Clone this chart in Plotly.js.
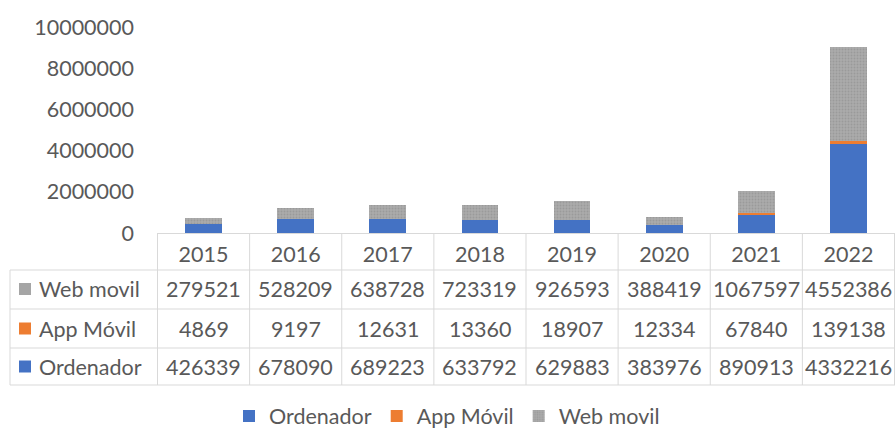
<!DOCTYPE html>
<html><head><meta charset="utf-8">
<script src="https://cdn.plot.ly/plotly-3.0.1.min.js"></script>
<style>html,body{margin:0;padding:0;background:#fff}#c{width:896px;height:429px}</style>
</head><body><div id="c"></div>
<script>
const years = ['2015','2016','2017','2018','2019','2020','2021','2022'];
const ordenador = [426339, 678090, 689223, 633792, 629883, 383976, 890913, 4332216];
const appMovil = [4869, 9197, 12631, 13360, 18907, 12334, 67840, 139138];
const webMovil = [279521, 528209, 638728, 723319, 926593, 388419, 1067597, 4552386];
const seriesNames = ['Ordenador', 'App Móvil', 'Web movil'];
const colors = ['#4472C4', '#ED7D31', '#A5A5A5'];

const FONT = 'Lato, "Open Sans", sans-serif';
const TXT = '#595959';
const LINE = '#D9D9D9';
const W = 896, H = 429;
const mL = 157, mR = 1, mT = 27, mB = 196;
const plotH = H - mT - mB; // 206
const py = p => (H - mB - p) / plotH; // pixel y -> paper y
const px = p => (p - mL) / (W - mL - mR); // pixel x -> paper x

const traces = [
  {type:'bar', name:seriesNames[0], x:years, y:ordenador, marker:{color:colors[0]}},
  {type:'bar', name:seriesNames[1], x:years, y:appMovil, marker:{color:colors[1]}},
  {type:'bar', name:seriesNames[2], x:years, y:webMovil,
   marker:{color:colors[2], pattern:{shape:'.', fgcolor:'#9A9A9A', bgcolor:'#ABABAB', size:3, solidity:0.3}}}
];
traces.forEach(t => { t.hoverinfo = 'none'; });

const shapes = [];
const annotations = [];
const yHeaderTop = 233, rowLines = [270, 309, 348, 385];
for (let k = 0; k <= years.length; k++) {
  shapes.push({type:'line', xref:'x', yref:'paper', x0:k-0.5, x1:k-0.5, y0:py(yHeaderTop), y1:py(385), line:{color:LINE, width:1}});
}
shapes.push({type:'line', xref:'paper', yref:'paper', x0:px(10), x1:px(10), y0:py(270), y1:py(385), line:{color:LINE, width:1}});
rowLines.forEach(r => {
  shapes.push({type:'line', xref:'paper', yref:'paper', x0:px(10), x1:1, y0:py(r), y1:py(r), line:{color:LINE, width:1}});
});

const rows = [
  {name: seriesNames[2], vals: webMovil, color: colors[2], yc: 289},
  {name: seriesNames[1], vals: appMovil, color: colors[1], yc: 328.5},
  {name: seriesNames[0], vals: ordenador, color: colors[0], yc: 366.5}
];
rows.forEach(r => {
  shapes.push({type:'rect', xref:'paper', yref:'paper', x0:px(19), x1:px(31), y0:py(r.yc-6), y1:py(r.yc+6), line:{width:0}, fillcolor:r.color});
  annotations.push({xref:'paper', yref:'paper', x:px(37), y:py(r.yc), xanchor:'left', yanchor:'middle', text:r.name, showarrow:false, font:{family:FONT, size:21.5, color:TXT}});
  r.vals.forEach((v, k) => {
    annotations.push({xref:'x', yref:'paper', x:k, y:py(r.yc), xanchor:'center', yanchor:'middle', text:String(v), showarrow:false, font:{family:FONT, size:21.5, color:TXT}});
  });
});

const layout = {
  width: W, height: H,
  margin: {l:mL, r:mR, t:mT, b:mB, autoexpand:false},
  paper_bgcolor:'#fff', plot_bgcolor:'#fff',
  barmode:'stack', bargap:0.6,
  font:{family:FONT, size:21.5, color:TXT},
  xaxis:{type:'category', showgrid:false, zeroline:false, showline:true, linecolor:LINE, linewidth:1,
         ticks:'', tickfont:{family:FONT, size:21.5, color:TXT}, ticklabelstandoff:2, fixedrange:true, automargin:false},
  yaxis:{range:[0, 10000000], dtick:2000000, tickformat:'d', showgrid:false, zeroline:false, showline:false,
         ticks:'', ticklabelstandoff:22, tickfont:{family:FONT, size:21.5, color:TXT}, fixedrange:true, automargin:false},
  showlegend:true,
  legend:{orientation:'h', x:px(447), xanchor:'center', y:py(416), yanchor:'middle', font:{family:FONT, size:21.5, color:TXT},
          traceorder:'normal', itemwidth:30},
  shapes, annotations
};
Plotly.newPlot('c', traces, layout, {displayModeBar:false, staticPlot:true});
</script></body></html>
